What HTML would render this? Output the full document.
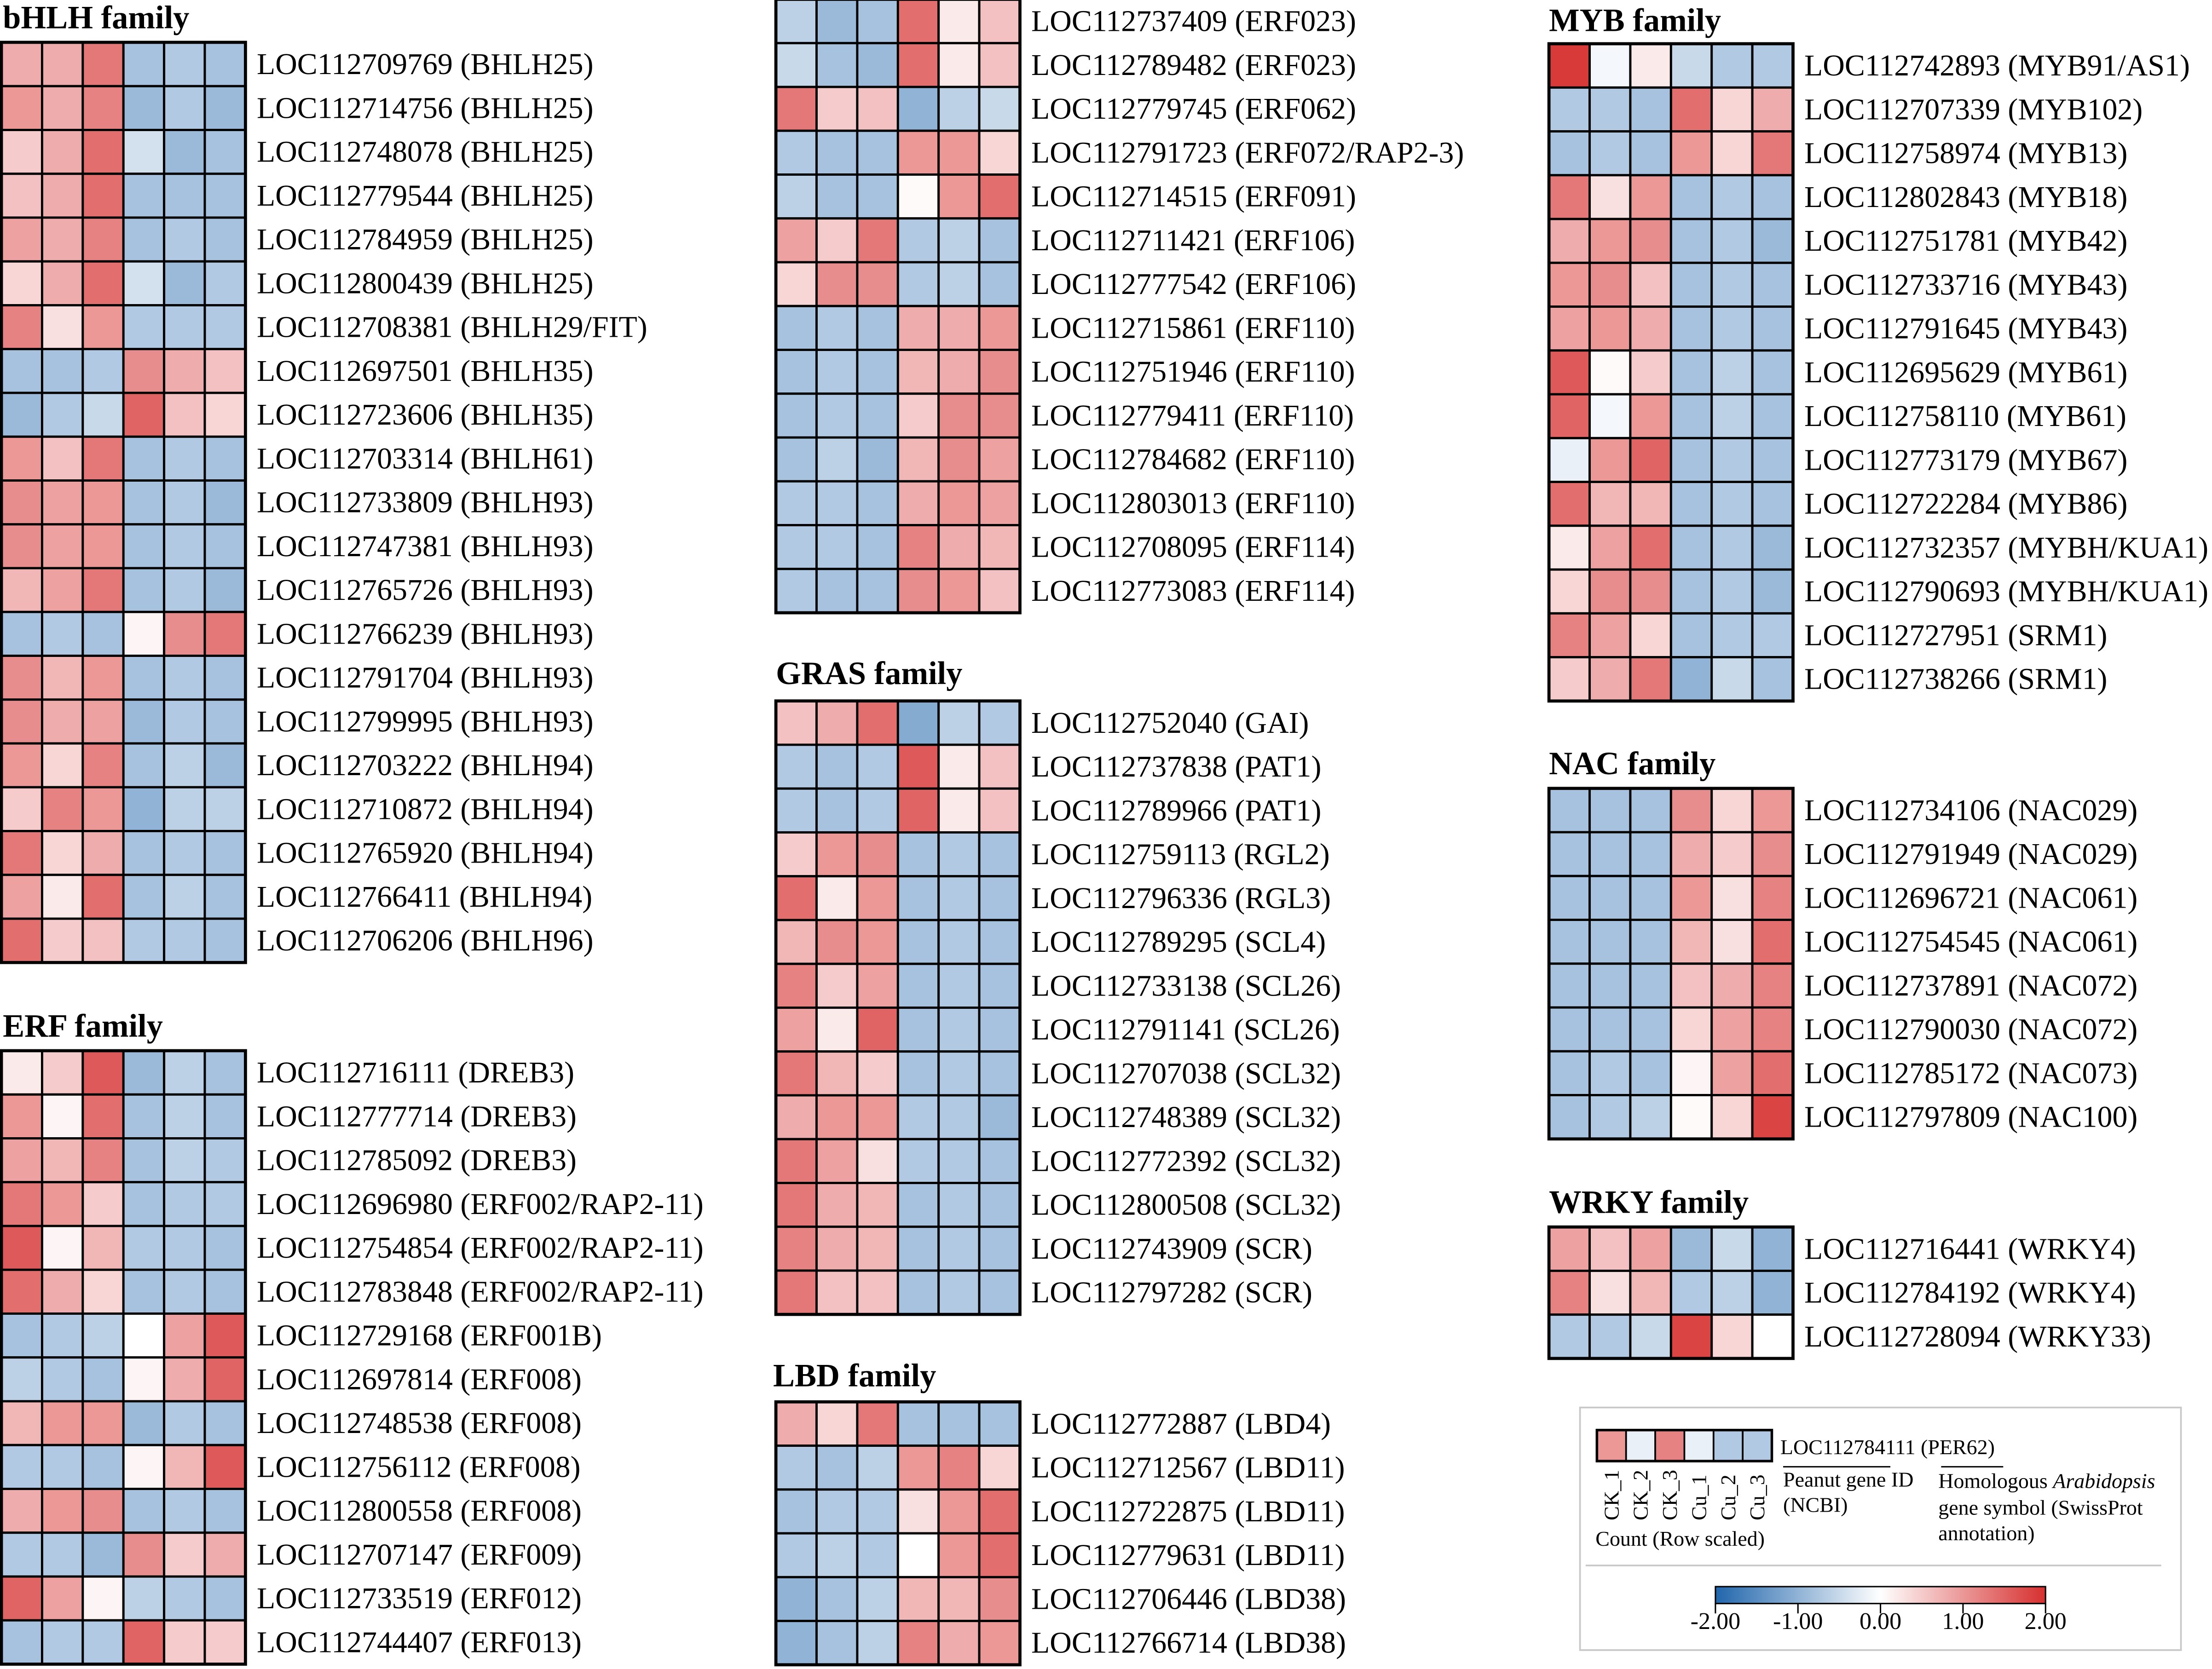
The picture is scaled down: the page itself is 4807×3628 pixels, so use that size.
<!DOCTYPE html>
<html><head><meta charset="utf-8"><style>
html,body{margin:0;padding:0;background:#fff;}
svg{display:block;}
text{font-family:"Liberation Serif","Times New Roman",serif;fill:#000;}
</style></head><body>
<svg id="chart" width="4807" height="3628" viewBox="0 0 1568 1183.4" xmlns="http://www.w3.org/2000/svg">
<rect x="0" y="0" width="1568" height="1183.4" fill="#fff"/>
<g id="panels"></g>
<g id="legend">
  <rect x="1120" y="998" width="426" height="172" fill="none" stroke="#c8c8c8" stroke-width="1.2"/>
  <g id="miniHeat"></g>
  <text x="1262" y="1031" font-size="15">LOC112784111 (PER62)</text>
  <line x1="1264" y1="1040" x2="1340" y2="1040" stroke="#000" stroke-width="1"/>
  <line x1="1376" y1="1040" x2="1420" y2="1040" stroke="#000" stroke-width="1"/>
  <text x="1264" y="1054" font-size="15">Peanut gene ID</text>
  <text x="1264" y="1072" font-size="15">(NCBI)</text>
  <text x="1374" y="1055" font-size="15">Homologous <tspan font-style="italic">Arabidopsis</tspan></text>
  <text x="1374" y="1074" font-size="15">gene symbol (SwissProt</text>
  <text x="1374" y="1092" font-size="15">annotation)</text>
  <text x="1131" y="1096" font-size="15">Count (Row scaled)</text>
  <line x1="1124" y1="1110" x2="1532" y2="1110" stroke="#c8c8c8" stroke-width="1.2"/>
  <defs><linearGradient id="cbar" x1="0" x2="1" y1="0" y2="0">
    <stop offset="0" stop-color="#2166ac"/><stop offset="0.5" stop-color="#ffffff"/><stop offset="1" stop-color="#d6302f"/>
  </linearGradient></defs>
  <rect x="1216" y="1125" width="234" height="12" fill="url(#cbar)" stroke="#000" stroke-width="1"/>
  <g id="cbticks"></g>
</g>
</svg>
<script>
const rowLabels_bhlh = ["LOC112709769 (BHLH25)","LOC112714756 (BHLH25)","LOC112748078 (BHLH25)","LOC112779544 (BHLH25)","LOC112784959 (BHLH25)","LOC112800439 (BHLH25)","LOC112708381 (BHLH29/FIT)","LOC112697501 (BHLH35)","LOC112723606 (BHLH35)","LOC112703314 (BHLH61)","LOC112733809 (BHLH93)","LOC112747381 (BHLH93)","LOC112765726 (BHLH93)","LOC112766239 (BHLH93)","LOC112791704 (BHLH93)","LOC112799995 (BHLH93)","LOC112703222 (BHLH94)","LOC112710872 (BHLH94)","LOC112765920 (BHLH94)","LOC112766411 (BHLH94)","LOC112706206 (BHLH96)"];
const values_bhlh = [[0.8,0.8,1.3,-0.8,-0.7,-0.8],[1.0,0.8,1.2,-0.9,-0.7,-0.9],[0.5,0.8,1.4,-0.4,-0.9,-0.8],[0.6,0.8,1.4,-0.8,-0.8,-0.8],[0.9,0.8,1.2,-0.8,-0.7,-0.8],[0.4,0.8,1.4,-0.4,-0.9,-0.7],[1.2,0.3,1.0,-0.7,-0.7,-0.7],[-0.8,-0.8,-0.7,1.1,0.8,0.6],[-0.9,-0.7,-0.5,1.5,0.6,0.4],[1.0,0.6,1.3,-0.8,-0.7,-0.8],[1.1,0.9,1.0,-0.8,-0.7,-0.9],[1.1,0.9,1.0,-0.8,-0.7,-0.8],[0.7,0.9,1.3,-0.8,-0.7,-0.9],[-0.8,-0.7,-0.8,0.1,1.1,1.3],[1.1,0.7,1.0,-0.8,-0.7,-0.8],[1.1,0.8,0.9,-0.9,-0.7,-0.8],[1.0,0.4,1.2,-0.8,-0.6,-0.9],[0.5,1.2,1.0,-1.0,-0.6,-0.6],[1.3,0.4,0.8,-0.8,-0.7,-0.8],[0.9,0.2,1.4,-0.8,-0.6,-0.8],[1.4,0.5,0.6,-0.7,-0.7,-0.8]];
const rowLabels_erf1 = ["LOC112716111 (DREB3)","LOC112777714 (DREB3)","LOC112785092 (DREB3)","LOC112696980 (ERF002/RAP2-11)","LOC112754854 (ERF002/RAP2-11)","LOC112783848 (ERF002/RAP2-11)","LOC112729168 (ERF001B)","LOC112697814 (ERF008)","LOC112748538 (ERF008)","LOC112756112 (ERF008)","LOC112800558 (ERF008)","LOC112707147 (ERF009)","LOC112733519 (ERF012)","LOC112744407 (ERF013)"];
const values_erf1 = [[0.2,0.5,1.6,-0.9,-0.6,-0.8],[1.0,0.1,1.4,-0.8,-0.6,-0.8],[0.9,0.7,1.2,-0.8,-0.6,-0.7],[1.3,1.0,0.5,-0.8,-0.7,-0.7],[1.6,0.1,0.7,-0.7,-0.7,-0.8],[1.4,0.8,0.4,-0.8,-0.7,-0.8],[-0.8,-0.7,-0.6,0.0,0.9,1.6],[-0.6,-0.7,-0.8,0.1,0.8,1.5],[0.7,1.0,1.0,-0.9,-0.7,-0.8],[-0.7,-0.7,-0.8,0.1,0.7,1.6],[0.8,1.0,1.1,-0.8,-0.7,-0.8],[-0.7,-0.7,-0.9,1.1,0.5,0.8],[1.5,0.9,0.1,-0.6,-0.7,-0.8],[-0.8,-0.7,-0.7,1.5,0.5,0.5]];
const rowLabels_erf2 = ["LOC112737409 (ERF023)","LOC112789482 (ERF023)","LOC112779745 (ERF062)","LOC112791723 (ERF072/RAP2-3)","LOC112714515 (ERF091)","LOC112711421 (ERF106)","LOC112777542 (ERF106)","LOC112715861 (ERF110)","LOC112751946 (ERF110)","LOC112779411 (ERF110)","LOC112784682 (ERF110)","LOC112803013 (ERF110)","LOC112708095 (ERF114)","LOC112773083 (ERF114)"];
const values_erf2 = [[-0.6,-0.9,-0.8,1.4,0.2,0.6],[-0.5,-0.8,-0.9,1.4,0.2,0.6],[1.3,0.5,0.6,-1.0,-0.6,-0.5],[-0.7,-0.8,-0.8,1.0,1.0,0.4],[-0.6,-0.8,-0.8,0.05,1.0,1.4],[0.9,0.5,1.3,-0.7,-0.6,-0.8],[0.4,1.1,1.1,-0.7,-0.6,-0.8],[-0.8,-0.7,-0.8,0.8,0.8,1.0],[-0.8,-0.7,-0.8,0.7,0.8,1.1],[-0.8,-0.7,-0.8,0.5,1.1,1.1],[-0.8,-0.6,-0.9,0.7,1.1,0.9],[-0.7,-0.7,-0.8,0.8,1.0,0.9],[-0.7,-0.7,-0.8,1.2,0.8,0.7],[-0.7,-0.8,-0.8,1.1,1.0,0.6]];
const rowLabels_gras = ["LOC112752040 (GAI)","LOC112737838 (PAT1)","LOC112789966 (PAT1)","LOC112759113 (RGL2)","LOC112796336 (RGL3)","LOC112789295 (SCL4)","LOC112733138 (SCL26)","LOC112791141 (SCL26)","LOC112707038 (SCL32)","LOC112748389 (SCL32)","LOC112772392 (SCL32)","LOC112800508 (SCL32)","LOC112743909 (SCR)","LOC112797282 (SCR)"];
const values_gras = [[0.6,0.8,1.4,-1.1,-0.6,-0.7],[-0.7,-0.8,-0.7,1.6,0.2,0.6],[-0.7,-0.8,-0.7,1.5,0.2,0.6],[0.5,1.0,1.1,-0.8,-0.7,-0.8],[1.4,0.2,1.0,-0.8,-0.7,-0.8],[0.7,1.1,1.0,-0.8,-0.7,-0.8],[1.2,0.5,0.9,-0.8,-0.7,-0.8],[0.9,0.2,1.5,-0.8,-0.7,-0.8],[1.3,0.7,0.5,-0.8,-0.7,-0.8],[0.8,1.0,1.0,-0.7,-0.7,-0.9],[1.3,0.9,0.3,-0.7,-0.7,-0.8],[1.3,0.8,0.7,-0.8,-0.7,-0.8],[1.2,0.8,0.7,-0.8,-0.7,-0.8],[1.3,0.6,0.6,-0.8,-0.7,-0.8]];
const rowLabels_lbd = ["LOC112772887 (LBD4)","LOC112712567 (LBD11)","LOC112722875 (LBD11)","LOC112779631 (LBD11)","LOC112706446 (LBD38)","LOC112766714 (LBD38)"];
const values_lbd = [[0.8,0.4,1.3,-0.8,-0.8,-0.8],[-0.7,-0.8,-0.6,1.0,1.2,0.4],[-0.8,-0.7,-0.7,0.3,1.0,1.4],[-0.7,-0.6,-0.7,0.0,1.0,1.4],[-1.0,-0.8,-0.6,0.7,0.7,1.1],[-1.0,-0.8,-0.6,1.2,0.8,1.0]];
const rowLabels_myb = ["LOC112742893 (MYB91/AS1)","LOC112707339 (MYB102)","LOC112758974 (MYB13)","LOC112802843 (MYB18)","LOC112751781 (MYB42)","LOC112733716 (MYB43)","LOC112791645 (MYB43)","LOC112695629 (MYB61)","LOC112758110 (MYB61)","LOC112773179 (MYB67)","LOC112722284 (MYB86)","LOC112732357 (MYBH/KUA1)","LOC112790693 (MYBH/KUA1)","LOC112727951 (SRM1)","LOC112738266 (SRM1)"];
const values_myb = [[1.9,-0.1,0.2,-0.5,-0.7,-0.7],[-0.7,-0.7,-0.8,1.4,0.4,0.8],[-0.8,-0.7,-0.8,1.0,0.4,1.3],[1.3,0.3,1.0,-0.8,-0.7,-0.8],[0.8,1.0,1.1,-0.8,-0.7,-0.9],[1.0,1.1,0.6,-0.8,-0.7,-0.8],[0.9,1.0,0.8,-0.8,-0.7,-0.8],[1.6,0.05,0.5,-0.8,-0.6,-0.8],[1.5,-0.1,1.0,-0.8,-0.6,-0.8],[-0.2,1.0,1.5,-0.8,-0.7,-0.8],[1.4,0.7,0.7,-0.8,-0.7,-0.8],[0.2,0.9,1.4,-0.8,-0.7,-0.9],[0.4,1.1,1.1,-0.8,-0.7,-0.9],[1.2,0.9,0.4,-0.8,-0.7,-0.7],[0.5,0.8,1.3,-1.0,-0.5,-0.8]];
const rowLabels_nac = ["LOC112734106 (NAC029)","LOC112791949 (NAC029)","LOC112696721 (NAC061)","LOC112754545 (NAC061)","LOC112737891 (NAC072)","LOC112790030 (NAC072)","LOC112785172 (NAC073)","LOC112797809 (NAC100)"];
const values_nac = [[-0.8,-0.8,-0.8,1.1,0.4,1.0],[-0.8,-0.8,-0.8,0.8,0.5,1.1],[-0.8,-0.8,-0.8,1.0,0.3,1.2],[-0.8,-0.8,-0.8,0.7,0.3,1.4],[-0.8,-0.8,-0.8,0.6,0.8,1.2],[-0.8,-0.8,-0.8,0.4,0.9,1.2],[-0.8,-0.7,-0.8,0.1,0.9,1.4],[-0.8,-0.7,-0.6,0.05,0.4,1.8]];
const rowLabels_wrky = ["LOC112716441 (WRKY4)","LOC112784192 (WRKY4)","LOC112728094 (WRKY33)"];
const values_wrky = [[0.9,0.6,0.9,-0.9,-0.5,-1.0],[1.2,0.3,0.7,-0.7,-0.6,-1.0],[-0.7,-0.7,-0.5,1.8,0.4,0.0]];
const legendValues = [1.0,-0.2,1.2,-0.2,-0.7,-0.7];
const sampleLabels = ["CK_1","CK_2","CK_3","Cu_1","Cu_2","Cu_3"];
const colorTicks = [-2,-1,0,1,2];

const NS="http://www.w3.org/2000/svg";
const ROWH=31.07, HW=173;
function color(v){
  v=Math.max(-2,Math.min(2,v)); const t=Math.abs(v)/2;
  const end = v<0?[33,102,172]:[214,48,47];
  const c=end.map(e=>Math.round(255+(e-255)*t));
  return `rgb(${c[0]},${c[1]},${c[2]})`;
}
function mk(tag,attrs,parent){const e=document.createElementNS(NS,tag);for(const k in attrs)e.setAttribute(k,attrs[k]);parent.appendChild(e);return e;}
const panelsG=document.getElementById('panels');
function panel(key,title,tx,ty,x0,y0,labels,vals){
  const g=mk('g',{},panelsG);
  
  
  if(title){const t=mk('text',{x:tx,y:ty,'font-size':23,'font-weight':'bold'},g);t.textContent=title;
    
    }
  const cw=HW/6;
  vals.forEach((row,i)=>{
    row.forEach((v,j)=>{
      const r=mk('rect',{x:x0+j*cw,y:y0+i*ROWH,width:cw,height:ROWH,fill:color(v),stroke:'#000','stroke-width':1.6},g);
      
      
    });
    const t=mk('text',{x:x0+HW+8,y:y0+i*ROWH+ROWH/2+7,'font-size':21.5},g);
    t.textContent=labels[i];
    
    
  });
  mk('rect',{x:x0,y:y0,width:HW,height:ROWH*vals.length,fill:'none',stroke:'#000','stroke-width':2.2},g);
}
panel('bhlh','bHLH family',2,20,1,30,rowLabels_bhlh,values_bhlh);
panel('erf-a','ERF family',2,735,1,745,rowLabels_erf1,values_erf1);
panel('erf-b',null,0,0,550,-0.5,rowLabels_erf2,values_erf2);
panel('gras','GRAS family',550,485,550,497,rowLabels_gras,values_gras);
panel('lbd','LBD family',548,983,550,994,rowLabels_lbd,values_lbd);
panel('myb','MYB family',1098,22,1098,31,rowLabels_myb,values_myb);
panel('nac','NAC family',1098,549,1098,559,rowLabels_nac,values_nac);
panel('wrky','WRKY family',1098,860,1098,870,rowLabels_wrky,values_wrky);

const mh=document.getElementById('miniHeat');
const mw=124/6;
legendValues.forEach((v,j)=>{
  const r=mk('rect',{x:1132+j*mw,y:1014,width:mw,height:22,fill:color(v),stroke:'#000','stroke-width':1.2},mh);
  
  
  const t=mk('text',{x:0,y:0,'font-size':15,transform:`translate(${1132+j*mw+mw/2+5},1078) rotate(-90)`},mh);
  t.textContent=sampleLabels[j];
  
  
});
mk('rect',{x:1132,y:1014,width:124,height:22,fill:'none',stroke:'#000','stroke-width':1.8},mh);
const cb=document.getElementById('cbticks');
const cbx=v=>1216+(v+2)/4*234;
colorTicks.forEach(v=>{
  mk('line',{x1:cbx(v),y1:1137,x2:cbx(v),y2:1144,stroke:'#000','stroke-width':1},cb);
  const t=mk('text',{x:cbx(v),y:1155,'font-size':17,'text-anchor':'middle'},cb);
  t.textContent=v.toFixed(2);
  
  
});
</script>
</body></html>
